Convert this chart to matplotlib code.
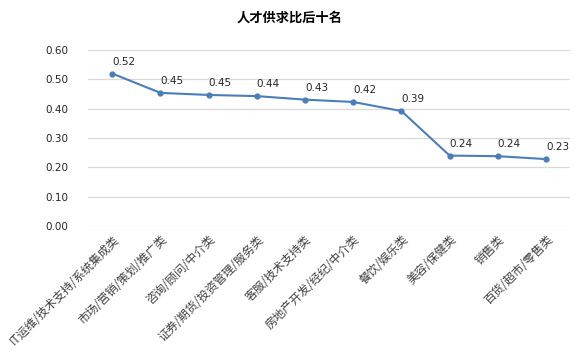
import matplotlib
matplotlib.use("Agg")
import matplotlib.pyplot as plt

plt.rcParams['font.family'] = ['Noto Sans CJK SC', 'DejaVu Sans']

# data
categories = ["IT运维/技术支持/系统集成类", "市场/营销/策划/推广类", "咨询/顾问/中介类",
              "证券/期货/投资管理/服务类", "客服/技术支持类", "房地产开发/经纪/中介类",
              "餐饮/娱乐类", "美容/保健类", "销售类", "百货/超市/零售类"]
values = [0.52, 0.454, 0.447, 0.443, 0.431, 0.423, 0.392, 0.240, 0.238, 0.228]
yticks = [0.0, 0.1, 0.2, 0.3, 0.4, 0.5, 0.6]

line_color = "#4a7ebb"

fig = plt.figure(figsize=(5.8, 3.58), dpi=100)
ax = fig.add_axes([0.152, 0.369, 0.831, 0.491])

x = list(range(len(categories)))
ax.plot(x, values, color=line_color, linewidth=1.5, marker='o', markersize=3.5, zorder=3)

for xi, v in zip(x, values):
    ax.annotate("{:.2f}".format(v), (xi, v), xytext=(0, 5), textcoords='offset points',
                ha='left', va='bottom', fontsize=7.5, color='#262626', family='DejaVu Sans')

ax.set_xlim(-0.5, len(categories) - 0.5)
ax.set_ylim(0, 0.6)
ax.set_yticks(yticks)
ax.set_yticklabels(["{:.2f}".format(t) for t in yticks], fontsize=7.5, color='#262626',
                   family='DejaVu Sans')
ax.grid(axis='y', color='#d9d9d9', linewidth=0.9)
ax.set_axisbelow(True)
for s in ax.spines.values():
    s.set_visible(False)
ax.tick_params(axis='both', length=0)
ax.tick_params(axis='y', pad=14)
ax.tick_params(axis='x', pad=5)

ax.set_xticks(x)
ax.set_xticklabels(categories, rotation=45, ha='right', va='top', rotation_mode='anchor',
                   fontsize=8.5, color='#404040')

fig.suptitle("人才供求比后十名", x=0.5, y=0.97, fontsize=9.5, fontweight='bold')

fig.savefig("out.png", dpi=100, facecolor='white')
